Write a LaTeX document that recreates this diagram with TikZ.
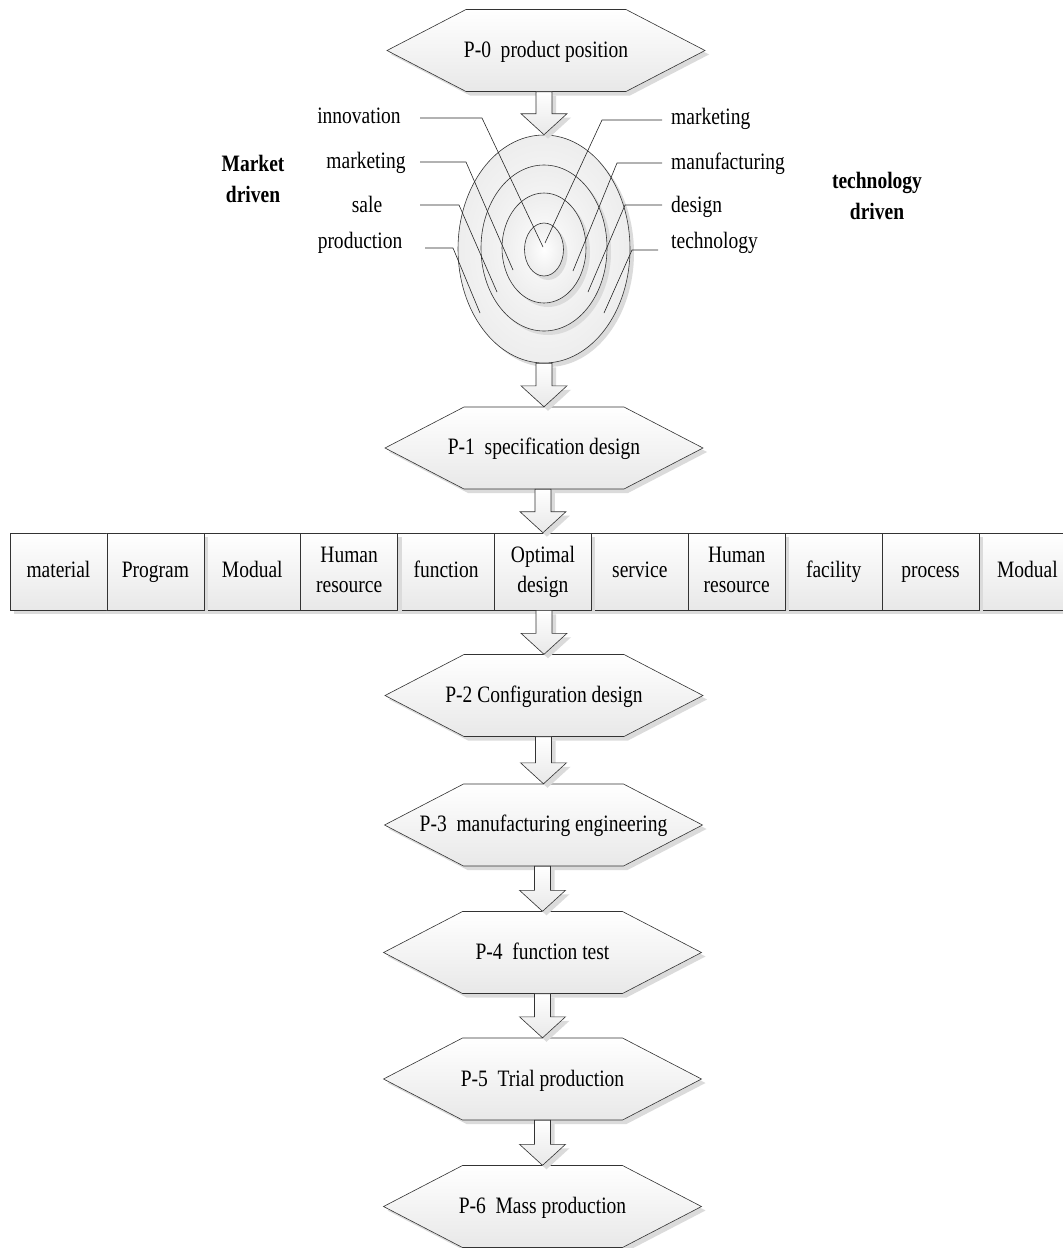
\documentclass[tikz,border=0pt]{standalone}
\usepackage{fontspec}
\setmainfont{Liberation Serif}[FakeStretch=0.83]
\usetikzlibrary{shapes.geometric,shadows,calc}
\newcommand\ta{\rule{0pt}{17pt}}
\newcommand\tb{\rule[-5pt]{0pt}{5pt}}
\newcommand\hta{\rule{0pt}{19pt}}
\newcommand\blockarr[2]{%
  \path[barrow] let \p1=(#1.south), \p2=(#2.north) in
    (\x2-8pt,\y1) -- (\x2-8pt,\y2+21pt) -- (\x2-23pt,\y2+21pt) -- (\x2,\y2)
    -- (\x2+23pt,\y2+21pt) -- (\x2+8pt,\y2+21pt) -- (\x2+8pt,\y1) -- cycle;}
\newcommand\hexnode[4]{%
  \path[hexshape] (#2-159,#3) -- (#2-80,#3-41) -- (#2+80,#3-41) -- (#2+159,#3)
    -- (#2+80,#3+41) -- (#2-80,#3+41) -- cycle;
  \node[hexlabel] (#1) at (#2,#3) {\hta #4\tb};}
\begin{document}
\begin{tikzpicture}[x=1pt,y=-1pt,
  every node/.style={font=\fontsize{23.5}{30}\selectfont},
  shadeA/.style={top color=white,bottom color=gray!18},
  shad/.style={drop shadow={shadow xshift=4pt,shadow yshift=-4pt,fill=gray!28,opacity=1}},
  hexshape/.style={draw=black!80, line width=0.6pt, shadeA, shad},
  hexlabel/.style={rectangle, minimum width=318pt, minimum height=82pt, inner sep=0pt},
  cell/.style={rectangle, draw=black!80, line width=0.6pt, shadeA, shad,
    minimum width=96.9pt, minimum height=77pt, inner sep=0pt, align=center},
  ring/.style={ellipse, draw=black!80, line width=0.6pt, inner color=white,
    outer color=gray!14, shad, inner sep=0pt},
  barrow/.style={draw=black!80, line width=0.6pt, shadeA, shad},
  lead/.style={draw=black!85, line width=0.6pt},
  lab/.style={inner sep=0pt},
  drv/.style={font=\fontsize{23.5}{31}\selectfont\bfseries, align=center, inner sep=0pt}
]
\useasboundingbox (0,0) rectangle (1063,1248);

% hexagons
\hexnode{p0}{546}{50.5}{P-0~ product position}
\hexnode{p1}{544}{448}{P-1~ specification design}
\hexnode{p2}{544}{695.5}{P-2 Configuration design}
\hexnode{p3}{543.5}{825}{P-3~ manufacturing engineering}
\hexnode{p4}{542.5}{952.5}{P-4~ function test}
\hexnode{p5}{542.5}{1079}{P-5~ Trial production}
\hexnode{p6}{542.5}{1206.5}{P-6~ Mass production}

% concentric ellipses
\node[ring, minimum width=172pt, minimum height=228pt] (e1) at (544,249) {};
\node[ring, minimum width=126pt, minimum height=166pt] (e2) at (544,248) {};
\node[ring, minimum width=84pt, minimum height=110pt] (e3) at (544,248) {};
\node[ring, minimum width=39pt, minimum height=53pt] (e4) at (544,249.5) {};

% row of boxes
\node[cell] (b1) at (58.45,571.5) {\ta material\tb};
\node[cell] (b3) at (252.25,571.5) {\ta Modual\tb};
\node[cell] (b5) at (446.05,571.5) {\ta function\tb};
\node[cell] (b7) at (639.85,571.5) {\ta service\tb};
\node[cell] (b9) at (833.65,571.5) {\ta facility\tb};
\node[cell] (b11) at (1027.45,571.5) {\ta Modual\tb};
\node[cell] (b2) at (155.35,571.5) {\ta Program\tb};
\node[cell] (b4) at (349.15,571.5) {\ta Human\\resource\tb};
\node[cell] (b6) at (542.95,571.5) {\ta Optimal\\design\tb};
\node[cell] (b8) at (736.75,571.5) {\ta Human\\resource\tb};
\node[cell] (b10) at (930.55,571.5) {\ta process\tb};

% block arrows
\blockarr{p0}{e1}
\blockarr{e1}{p1}
\blockarr{p1}{b6}
\blockarr{b6}{p2}
\blockarr{p2}{p3}
\blockarr{p3}{p4}
\blockarr{p4}{p5}
\blockarr{p5}{p6}

% labels left
\node[lab, anchor=base] (tl1) at (359,123) {innovation};
\node[lab, anchor=base] (tl2) at (366,168) {marketing};
\node[lab, anchor=base] (tl3) at (367,212) {sale};
\node[lab, anchor=base] (tl4) at (360,248) {production};
% labels right
\node[lab, anchor=base west] (tr1) at (671,124) {marketing};
\node[lab, anchor=base west] (tr2) at (671,169) {manufacturing};
\node[lab, anchor=base west] (tr3) at (671,212) {design};
\node[lab, anchor=base west] (tr4) at (671,248) {technology};

% leader lines
\coordinate (la1) at (420,118); \coordinate (lb1) at (482,118); \coordinate (lc1) at (543,247);
\coordinate (la2) at (420,162); \coordinate (lb2) at (466,162); \coordinate (lc2) at (513,270);
\coordinate (la3) at (420,205); \coordinate (lb3) at (459,205); \coordinate (lc3) at (497,292);
\coordinate (la4) at (425,248); \coordinate (lb4) at (453,248); \coordinate (lc4) at (480,313);
\coordinate (ra1) at (662,120); \coordinate (rb1) at (602,120); \coordinate (rc1) at (545,243);
\coordinate (ra2) at (662,163); \coordinate (rb2) at (617,163); \coordinate (rc2) at (573,271);
\coordinate (ra3) at (662,205); \coordinate (rb3) at (625,205); \coordinate (rc3) at (588,292);
\coordinate (ra4) at (658,250); \coordinate (rb4) at (632,250); \coordinate (rc4) at (604,313);
\foreach \i in {1,2,3,4} {
  \draw[lead] (la\i) -- (lb\i) -- (lc\i);
  \draw[lead] (ra\i) -- (rb\i) -- (rc\i);
}

% driven labels
\node[drv] (md) at (253,179) {Market\\driven};
\node[drv] (td) at (877,196) {technology\\driven};
\end{tikzpicture}
\end{document}
